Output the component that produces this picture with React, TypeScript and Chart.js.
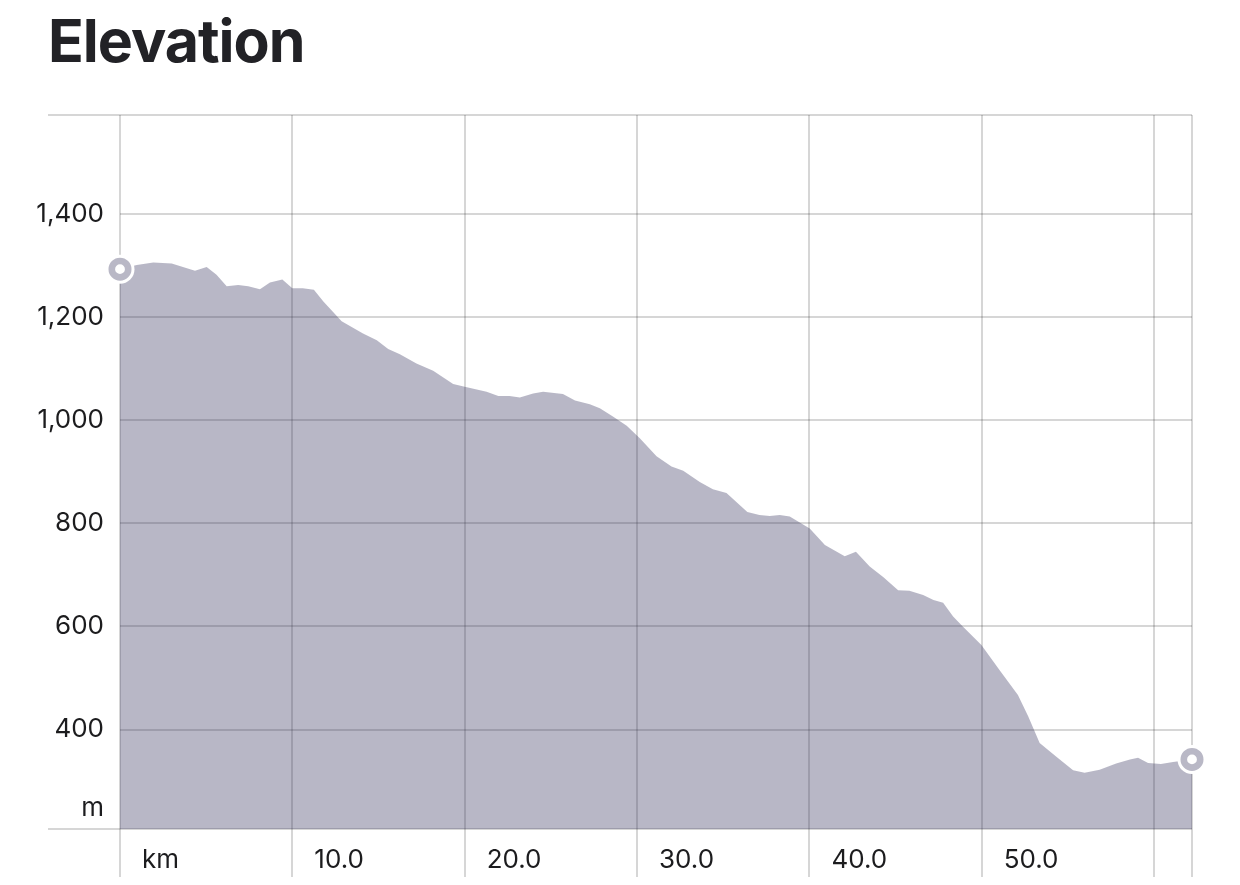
import React, { useEffect, useRef } from 'react';
import { Chart, registerables } from 'chart.js';

Chart.register(...registerables);

// Distance along route (km)
const kmValues = [
  0, 0.97, 1.93, 3.0, 4.35, 5.03, 5.6, 6.19, 6.86, 7.44, 8.12, 8.7, 9.42, 10.0, 10.6, 11.25, 11.8,
  12.86, 14.1, 14.9, 15.56, 16.24, 17.2, 18.17, 19.33, 20.0, 21.27, 21.95, 22.6, 23.2, 23.97, 24.55,
  25.7, 26.4, 27.26, 27.84, 28.6, 29.4, 30.16, 31.13, 32.0, 32.68, 33.64, 34.4, 35.19, 36.4, 37.1,
  37.7, 38.28, 38.86, 40.02, 40.9, 42.05, 42.7, 43.5, 44.28, 45.15, 45.8, 46.6, 47.2, 47.76, 48.34,
  48.9, 49.98, 51.04, 52.1, 52.7, 53.36, 54.33, 55.3, 55.97, 56.84, 57.8, 58.6, 59.07, 59.65, 60.4,
  61.1, 62.2,
];

// Elevation (m)
const elevationValues = [
  1293, 1301, 1306, 1304, 1290, 1297, 1282, 1260, 1262, 1260, 1254, 1267, 1273, 1256, 1256, 1253, 1230,
  1192, 1168, 1155, 1138, 1128, 1110, 1096, 1070, 1065, 1055, 1047, 1047, 1044, 1052, 1055,
  1051, 1038, 1031, 1023, 1007, 989, 965, 930, 910, 902, 880, 866, 859, 822, 816,
  814, 816, 813, 790, 758, 736, 745, 716, 696, 670, 669, 661, 651, 646, 619,
  600, 564, 515, 467, 425, 374, 347, 321, 316, 322, 334, 342, 345, 335, 333,
  337, 342,
];

const xTickValues = [0, 10, 20, 30, 40, 50, 60, 62.2];
const xTickLabels = ['km', '10.0', '20.0', '30.0', '40.0', '50.0', '', ''];
const yTickValues = [207, 247, 400, 600, 800, 1000, 1200, 1400, 1592];
const yTickLabels = ['', 'm', '400', '600', '800', '1,000', '1,200', '1,400', ''];

const X_MIN = 0;
const X_MAX = 62.2;
const Y_MIN = 207;
const Y_MAX = 1592;

const GRID = 'rgba(0,0,0,0.16)';
const FILL = 'rgba(48,45,88,0.34)';
const RING = '#b9b8c6';
const TEXT = '#1c1c1e';

export default function App() {
  const ref = useRef<HTMLCanvasElement>(null);

  useEffect(() => {
    if (!ref.current) return;
    const profile = kmValues.map((x, i) => ({ x, y: elevationValues[i] }));
    const ends = [profile[0], profile[profile.length - 1]];

    const chart = new Chart(ref.current, {
      type: 'line',
      data: {
        datasets: [
          {
            data: ends,
            order: 1,
            showLine: false,
            pointRadius: 8.2,
            pointHoverRadius: 8.2,
            pointBorderWidth: 6.6,
            pointBackgroundColor: '#ffffff',
            pointBorderColor: RING,
            clip: false as any,
          },
          {
            data: ends,
            order: 2,
            showLine: false,
            pointRadius: 14.5,
            pointHoverRadius: 14.5,
            pointBorderWidth: 0,
            pointBackgroundColor: '#ffffff',
            pointBorderColor: '#ffffff',
            clip: false as any,
          },
          {
            data: profile,
            order: 3,
            fill: 'start',
            backgroundColor: FILL,
            borderWidth: 0,
            borderColor: 'rgba(0,0,0,0)',
            pointRadius: 0,
            tension: 0,
          },
        ],
      },
      options: {
        responsive: false,
        animation: false,
        devicePixelRatio: 1,
        layout: { padding: { top: 115, right: 48, bottom: 0, left: 0 } },
        plugins: { legend: { display: false }, tooltip: { enabled: false }, title: { display: false } },
        events: [],
        scales: {
          x: {
            type: 'linear',
            min: X_MIN,
            max: X_MAX,
            afterBuildTicks: (scale: any) => {
              scale.ticks = xTickValues.map((v) => ({ value: v }));
            },
            afterFit: (scale: any) => {
              scale.height = 56;
            },
            border: { display: false },
            grid: {
              color: GRID,
              tickColor: GRID,
              tickLength: 48,
              lineWidth: 2,
              tickWidth: 2,
            },
            ticks: {
              autoSkip: false,
              maxRotation: 0,
              minRotation: 0,
              align: 'start',
              labelOffset: 22,
              padding: -32,
              color: TEXT,
              font: { family: 'Inter', size: 26 },
              callback: (_v: any, i: number) => xTickLabels[i],
            },
          },
          y: {
            type: 'linear',
            min: Y_MIN,
            max: Y_MAX,
            afterBuildTicks: (scale: any) => {
              scale.ticks = yTickValues.map((v) => ({ value: v }));
            },
            afterFit: (scale: any) => {
              scale.width = 120;
            },
            border: { display: false },
            grid: {
              color: (ctx: any) => (ctx.index === 1 ? 'rgba(0,0,0,0)' : GRID),
              tickColor: (ctx: any) =>
                ctx.index === 0 || ctx.index === yTickValues.length - 1 ? GRID : 'rgba(0,0,0,0)',
              tickLength: 72,
              lineWidth: 2,
              tickWidth: 2,
            },
            ticks: {
              autoSkip: false,
              padding: -56,
              color: TEXT,
              font: { family: 'Inter', size: 26 },
              callback: (_v: any, i: number) => yTickLabels[i],
            },
          },
        },
      },
    } as any);

    return () => chart.destroy();
  }, []);

  return (
    <div style={{ position: 'fixed', left: 0, top: 0, width: 1240, height: 885, background: '#fff' }}>
      <div
        style={{
          position: 'absolute',
          left: 48,
          top: 11,
          fontFamily: 'Inter, sans-serif',
          fontWeight: 700,
          fontSize: 59,
          lineHeight: '60px',
          color: '#222226',
          letterSpacing: -1,
        }}
      >
        Elevation
      </div>
      <canvas ref={ref} width={1240} height={885} style={{ position: 'absolute', left: 0, top: 0 }} />
    </div>
  );
}
